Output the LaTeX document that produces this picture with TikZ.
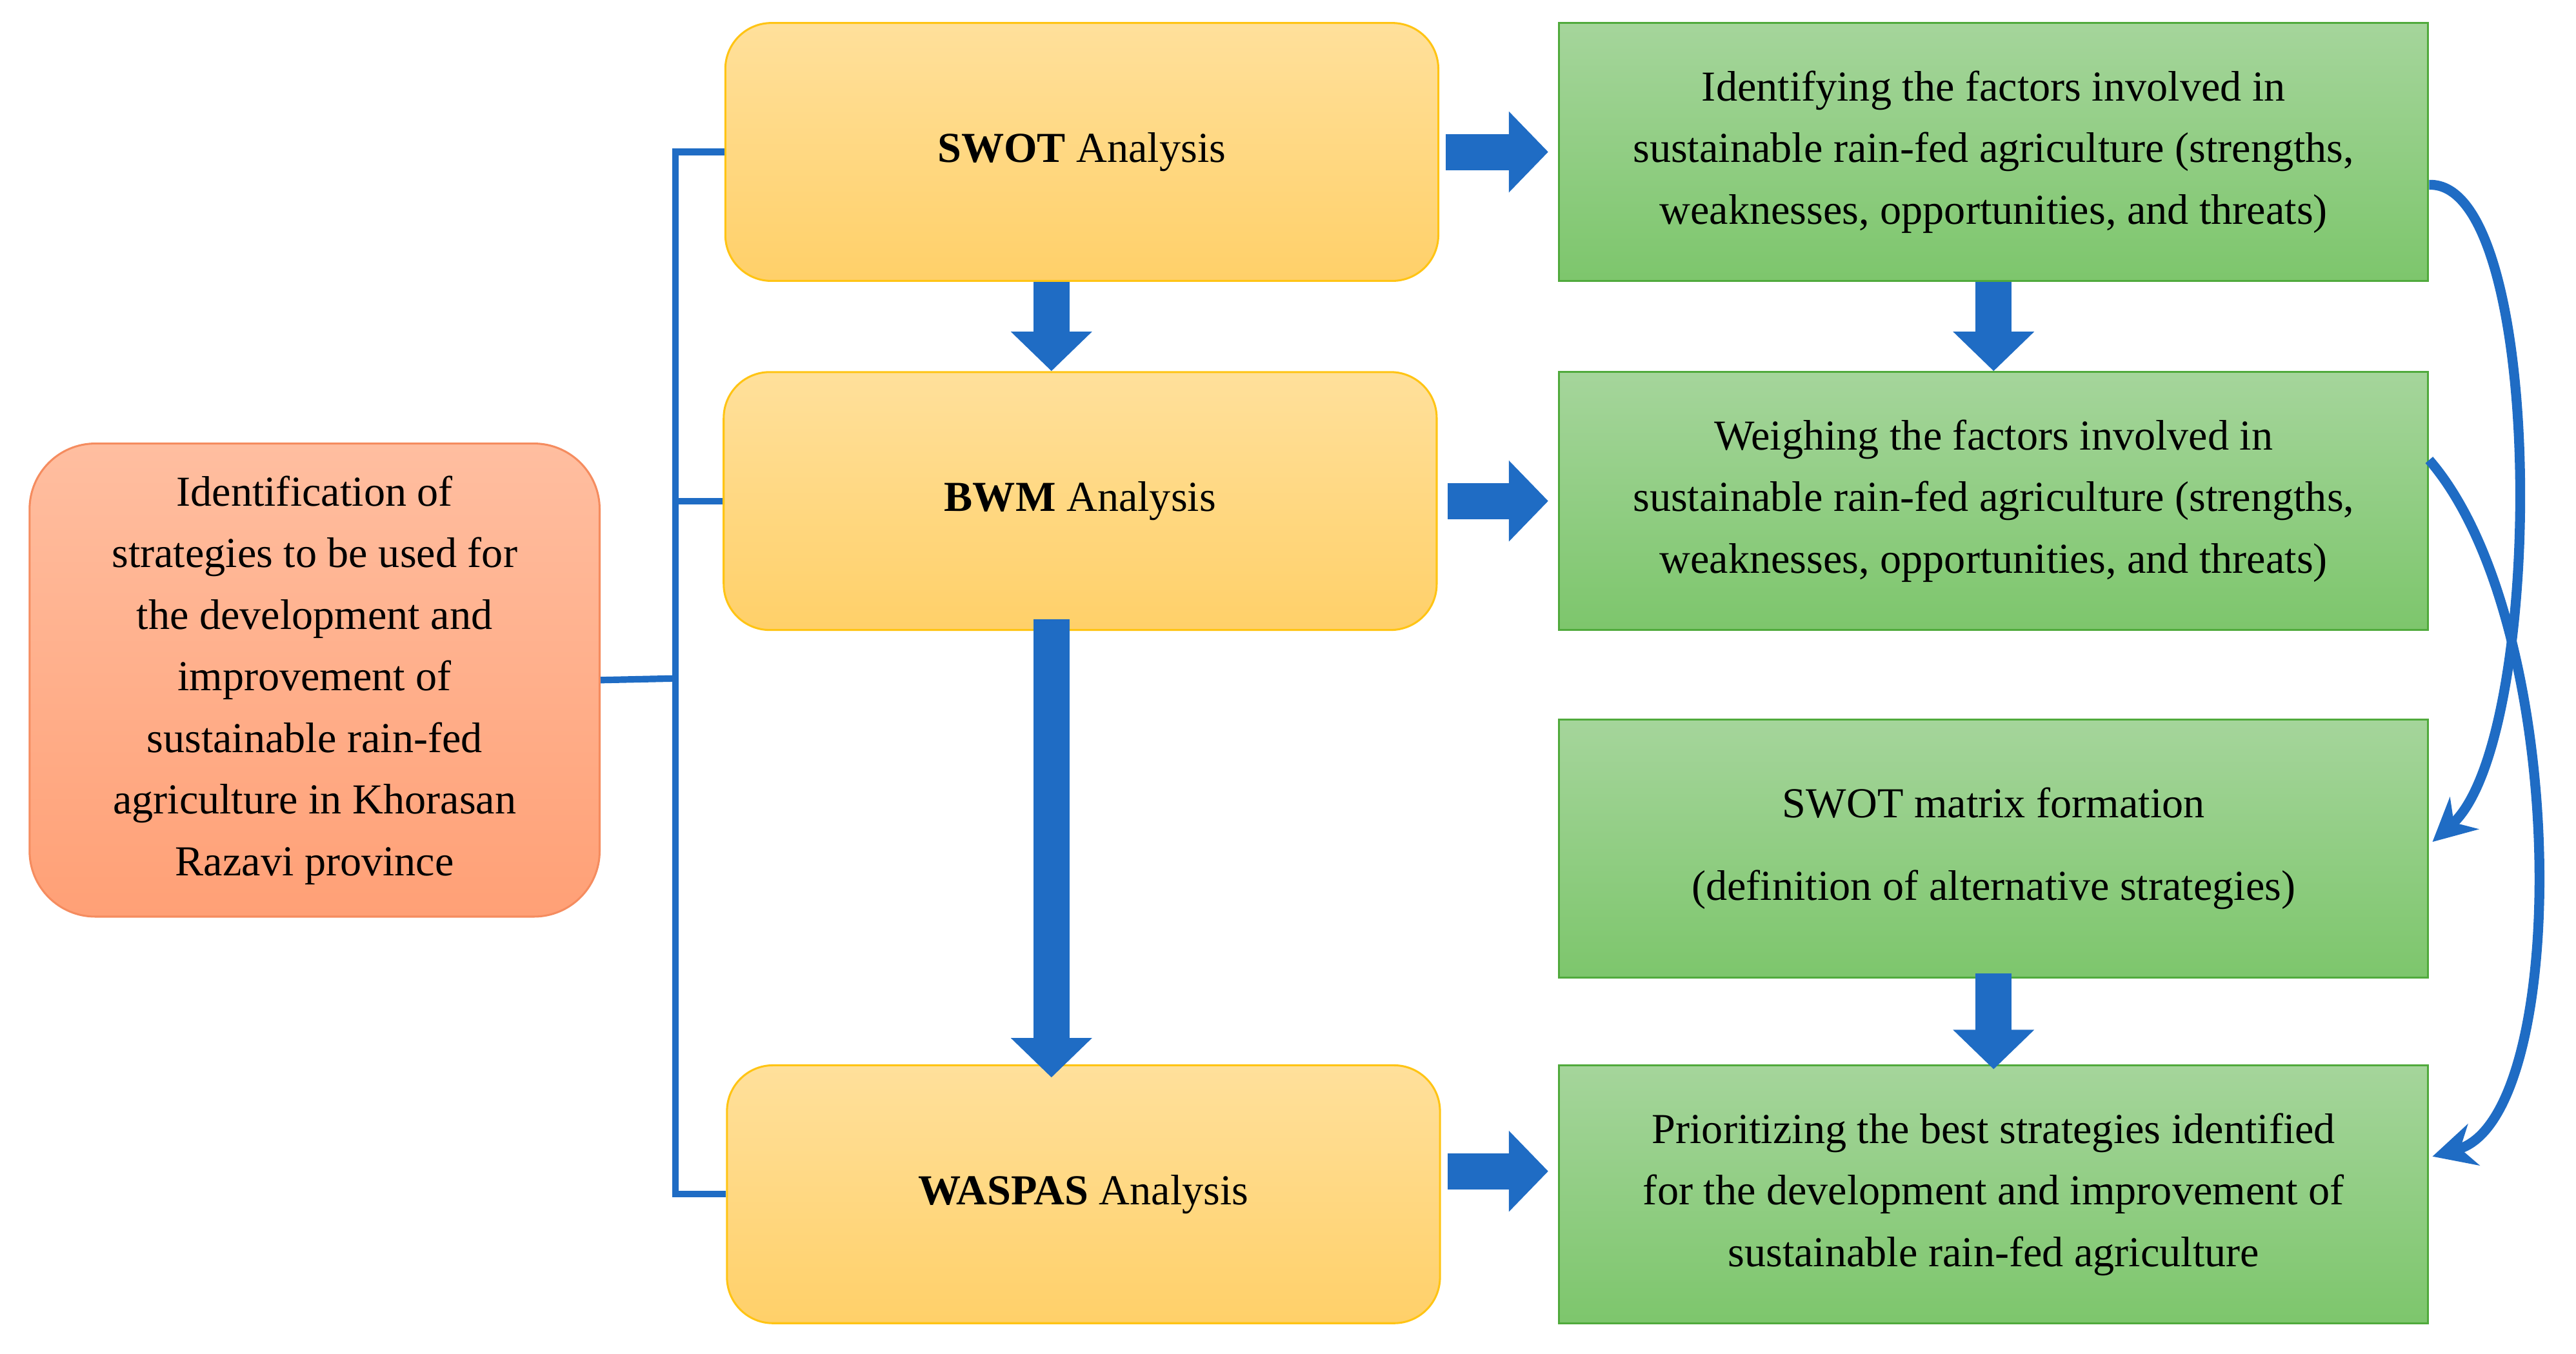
\documentclass[tikz,border=0pt]{standalone}
\usepackage{fontspec}
\setmainfont{Liberation Serif}
\usetikzlibrary{arrows.meta,shadings}
\definecolor{bl}{RGB}{31,108,196}
\definecolor{ylt}{RGB}{255,224,155}\definecolor{ydk}{RGB}{255,208,105}\definecolor{ybd}{RGB}{255,196,20}
\definecolor{glt}{RGB}{165,213,155}\definecolor{gdk}{RGB}{125,198,108}\definecolor{gbd}{RGB}{80,170,60}
\definecolor{olt}{RGB}{255,190,160}\definecolor{odk}{RGB}{255,160,118}\definecolor{obd}{RGB}{245,140,95}
\tikzset{
 box/.style={inner sep=0pt,align=center,font=\fontsize{26}{37.5}\selectfont,line width=1.2pt},
 ybox/.style={box,rounded corners=28pt,top color=ylt,bottom color=ydk,draw=ybd,minimum width=434pt,minimum height=157pt},
 gbox/.style={box,top color=glt,bottom color=gdk,draw=gbd,minimum width=529pt,minimum height=157pt},
 obox/.style={box,rounded corners=40pt,top color=olt,bottom color=odk,draw=obd,minimum width=347pt,minimum height=288pt},
 blk/.style={draw=bl,line width=22pt,-{Triangle[width=48pt,length=24pt]}},
 brk/.style={draw=bl,line width=4pt},
 curve/.style={draw=bl,line width=6pt,-{Stealth[length=26pt,width=26pt]}}
}
\begin{document}
\begin{tikzpicture}[x=1pt,y=-1pt]
\useasboundingbox (0,0) rectangle (1568,824);
\node[obox] (L) at (191.5,414) {Identification of\\strategies to be used for\\the development and\\improvement of\\sustainable rain-fed\\agriculture in Khorasan\\Razavi province};
\node[ybox] (S) at (658.5,92.5) {\textbf{SWOT} Analysis};
\node[ybox] (B) at (657.5,305) {\textbf{BWM} Analysis};
\node[ybox] (W) at (659.5,727) {\textbf{WASPAS} Analysis};
\node[gbox] (G1) at (1213.5,92.5) {Identifying the factors involved in\\sustainable rain-fed agriculture (strengths,\\weaknesses, opportunities, and threats)};
\node[gbox] (G2) at (1213.5,305) {Weighing the factors involved in\\sustainable rain-fed agriculture (strengths,\\weaknesses, opportunities, and threats)};
\node[gbox,font=\fontsize{26}{50}\selectfont] (G3) at (1213.5,516.5) {SWOT matrix formation\\(definition of alternative strategies)};
\node[gbox] (G4) at (1213.5,727) {Prioritizing the best strategies identified\\for the development and improvement of\\sustainable rain-fed agriculture};
% bracket
\coordinate (bx) at (411,413);
\draw[brk] (L.east) -- (bx);
\draw[brk] (S.west) -| (bx) |- (W.west);
\draw[brk] (bx |- B.west) -- (B.west);
% block arrows
\draw[blk] ([xshift=4pt]S.east) -- ([xshift=-6pt]G1.west);
\draw[blk] ([xshift=6pt]B.east) -- ([xshift=-6pt]G2.west);
\draw[blk] ([xshift=4pt,yshift=14pt]W.east) -- ([xshift=-6pt,yshift=14pt]G4.west);
\draw[blk] (S.south -| 640,0) -- (B.north -| 640,0);
\draw[blk] ([yshift=7pt]B.south -| 640,0) -- ([yshift=-8pt]W.north -| 640,0);
\draw[blk] (G1.south) -- (G2.north);
\draw[blk] ([yshift=3pt]G3.south) -- ([yshift=-3pt]G4.north);
% curved arrows
\draw[curve] ([yshift=-20pt]G1.east) .. controls (1550,110) and (1550,450) .. ([xshift=2pt,yshift=4pt]G3.east);
\draw[curve] ([yshift=25pt]G2.east) .. controls (1565,380) and (1565,680) .. ([xshift=2pt,yshift=23pt]G4.east);
\end{tikzpicture}
\end{document}
